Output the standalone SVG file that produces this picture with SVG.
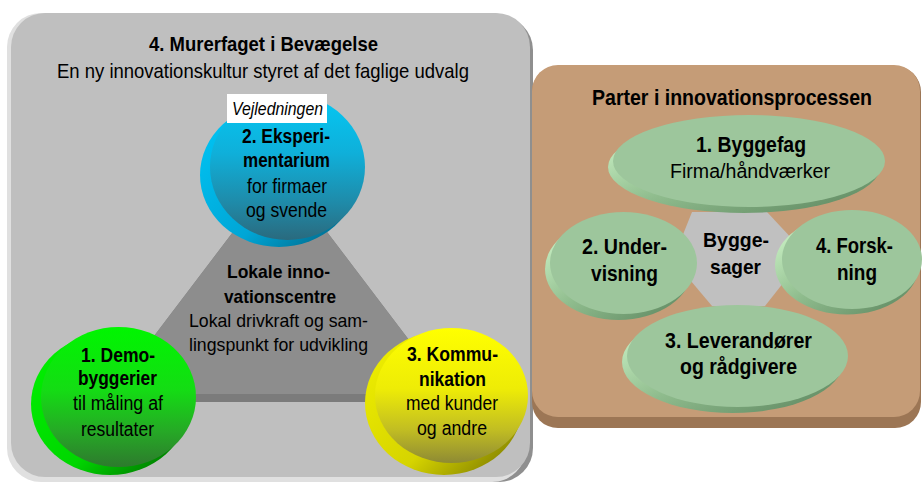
<svg xmlns="http://www.w3.org/2000/svg" width="923" height="484" viewBox="0 0 923 484">
<style>
text{font-family:"Liberation Sans Narrow","Arial Narrow","Liberation Sans",Arial,sans-serif;fill:#000;text-anchor:middle;}
.b{font-weight:bold;}
.i{font-style:italic;}
.s21{font-size:21px;}
.s20{font-size:20px;}
.s19{font-size:19px;}
.s18{font-size:18px;}
.s22{font-size:22px;}
.ell{fill:#9dc69c;}
.ellb{fill:url(#gEllB);}
</style>
<defs>
<linearGradient id="gBlueF" x1="0" y1="0" x2="0" y2="1">
<stop offset="0" stop-color="#03c8f4"/><stop offset="0.4" stop-color="#0fb0da"/><stop offset="0.75" stop-color="#1f8aa8"/><stop offset="1" stop-color="#2a6a7e"/>
</linearGradient>
<linearGradient id="gBlueB" x1="0" y1="0" x2="1" y2="1">
<stop offset="0" stop-color="#00c8f8"/><stop offset="0.6" stop-color="#00a6d6"/><stop offset="1" stop-color="#005a78"/>
</linearGradient>
<linearGradient id="gGreenF" x1="0" y1="0" x2="0" y2="1">
<stop offset="0" stop-color="#00f600"/><stop offset="0.45" stop-color="#14dc14"/><stop offset="0.75" stop-color="#26a826"/><stop offset="1" stop-color="#2d7a2d"/>
</linearGradient>
<linearGradient id="gGreenB" x1="0" y1="0" x2="1" y2="1">
<stop offset="0" stop-color="#00f400"/><stop offset="0.6" stop-color="#00d600"/><stop offset="1" stop-color="#005c00"/>
</linearGradient>
<linearGradient id="gYellowF" x1="0" y1="0" x2="0" y2="1">
<stop offset="0" stop-color="#ffff00"/><stop offset="0.45" stop-color="#eeec06"/><stop offset="0.75" stop-color="#c2be22"/><stop offset="1" stop-color="#8e8a34"/>
</linearGradient>
<linearGradient id="gYellowB" x1="0" y1="0" x2="1" y2="1">
<stop offset="0" stop-color="#f2f200"/><stop offset="0.6" stop-color="#d6d400"/><stop offset="1" stop-color="#6c6a00"/>
</linearGradient>
<linearGradient id="gEllB" x1="0" y1="0.3" x2="0.7" y2="1">
<stop offset="0" stop-color="#c2eabd"/><stop offset="0.5" stop-color="#8fbc8d"/><stop offset="1" stop-color="#6a946b"/>
</linearGradient>
</defs>

<g id="panel-left">
<rect x="14" y="16" width="519" height="466" rx="34" fill="#8f8f8f"/>
<rect x="7" y="13" width="519" height="469" rx="34" fill="#e0e0e0"/>
<rect x="11" y="13" width="519" height="464" rx="34" fill="#bfbfbf"/>
<text class="b s21" x="263.5" y="51" textLength="229" lengthAdjust="spacingAndGlyphs">4. Murerfaget i Bevægelse</text>
<text class="s21" x="263" y="78" textLength="412" lengthAdjust="spacingAndGlyphs">En ny innovationskultur styret af det faglige udvalg</text>
</g>

<g id="node-lokale">
<polygon points="280,170 104,402 456,402" fill="#7b7b7b"/>
<polygon points="280,170 110,394 450,394" fill="#8d8d8d"/>
<text class="b s19" x="278.5" y="278" textLength="103" lengthAdjust="spacingAndGlyphs">Lokale inno-</text>
<text class="b s19" x="280" y="303" textLength="112" lengthAdjust="spacingAndGlyphs">vationscentre</text>
<text class="s19" x="278.5" y="327" textLength="179" lengthAdjust="spacingAndGlyphs">Lokal drivkraft og sam-</text>
<text class="s19" x="278.5" y="351" textLength="179" lengthAdjust="spacingAndGlyphs">lingspunkt for udvikling</text>
</g>

<g id="node-eksperimentarium">
<ellipse cx="279" cy="175" rx="79" ry="72" fill="url(#gBlueB)"/>
<ellipse cx="287.5" cy="167" rx="77.5" ry="73" fill="url(#gBlueF)"/>
<text class="b s20" x="286" y="143" textLength="88" lengthAdjust="spacingAndGlyphs">2. Eksperi-</text>
<text class="b s20" x="286.5" y="167" textLength="87" lengthAdjust="spacingAndGlyphs">mentarium</text>
<text class="s20" x="287" y="193" textLength="80" lengthAdjust="spacingAndGlyphs">for firmaer</text>
<text class="s20" x="286.5" y="217" textLength="81" lengthAdjust="spacingAndGlyphs">og svende</text>
</g>

<g id="node-vejledningen">
<rect x="227" y="94" width="100" height="29" fill="#ffffff"/>
<text class="i s18" x="277.5" y="115" textLength="91" lengthAdjust="spacingAndGlyphs">Vejledningen</text>
</g>

<g id="node-demobyggerier">
<ellipse cx="110" cy="404" rx="79" ry="71" fill="url(#gGreenB)"/>
<ellipse cx="118.5" cy="397" rx="77.5" ry="70" fill="url(#gGreenF)"/>
<text class="b s20" x="118" y="362" textLength="74" lengthAdjust="spacingAndGlyphs">1. Demo-</text>
<text class="b s20" x="117.5" y="385" textLength="79" lengthAdjust="spacingAndGlyphs">byggerier</text>
<text class="s20" x="118" y="410" textLength="90" lengthAdjust="spacingAndGlyphs">til måling af</text>
<text class="s20" x="117.5" y="436" textLength="73" lengthAdjust="spacingAndGlyphs">resultater</text>
</g>

<g id="node-kommunikation">
<ellipse cx="444" cy="403" rx="79" ry="72" fill="url(#gYellowB)"/>
<ellipse cx="451.5" cy="395.5" rx="76.5" ry="67.5" fill="url(#gYellowF)"/>
<text class="b s20" x="452.5" y="361" textLength="91" lengthAdjust="spacingAndGlyphs">3. Kommu-</text>
<text class="b s20" x="452.5" y="386" textLength="67" lengthAdjust="spacingAndGlyphs">nikation</text>
<text class="s20" x="452" y="410" textLength="92" lengthAdjust="spacingAndGlyphs">med kunder</text>
<text class="s20" x="452" y="435" textLength="70" lengthAdjust="spacingAndGlyphs">og andre</text>
</g>

<g id="panel-right">
<rect x="532" y="66" width="389" height="362" rx="26" fill="#9c7655"/>
<rect x="532" y="65" width="388" height="352" rx="26" fill="#c59c77"/>
<text class="b s22" x="732" y="105" textLength="280" lengthAdjust="spacingAndGlyphs">Parter i innovationsprocessen</text>
</g>

<g id="node-byggesager">
<polygon points="692,212 767,212 795,242 795,268 765,306 712,306 680,268 680,242" fill="#c0c0c0"/>
<text class="b s21" x="736" y="247" textLength="66" lengthAdjust="spacingAndGlyphs">Bygge-</text>
<text class="b s21" x="735.5" y="274" textLength="51" lengthAdjust="spacingAndGlyphs">sager</text>
</g>

<g id="node-byggefag">
<ellipse class="ellb" cx="744" cy="167" rx="136" ry="46"/>
<ellipse class="ell" cx="749" cy="161" rx="136" ry="46"/>
<text class="b s22" x="751" y="152" textLength="110" lengthAdjust="spacingAndGlyphs">1. Byggefag</text>
<text class="s20" x="750" y="178" textLength="160" lengthAdjust="spacingAndGlyphs">Firma/håndværker</text>
</g>

<g id="node-undervisning">
<ellipse class="ellb" cx="618.5" cy="269" rx="73.5" ry="51"/>
<ellipse class="ell" cx="623.5" cy="263" rx="73.5" ry="51"/>
<text class="b s22" x="624.5" y="254" textLength="85" lengthAdjust="spacingAndGlyphs">2. Under-</text>
<text class="b s22" x="624.5" y="281" textLength="67" lengthAdjust="spacingAndGlyphs">visning</text>
</g>

<g id="node-forskning">
<ellipse class="ellb" cx="847" cy="265" rx="72" ry="49.5"/>
<ellipse class="ell" cx="852" cy="259.5" rx="70" ry="49.5"/>
<text class="b s22" x="854.5" y="253" textLength="77" lengthAdjust="spacingAndGlyphs">4. Forsk-</text>
<text class="b s22" x="857" y="280" textLength="40" lengthAdjust="spacingAndGlyphs">ning</text>
</g>

<g id="node-leverandoerer">
<ellipse class="ellb" cx="732.5" cy="362" rx="110.5" ry="51"/>
<ellipse class="ell" cx="737.5" cy="356" rx="110.5" ry="51"/>
<text class="b s22" x="738.5" y="348" textLength="147" lengthAdjust="spacingAndGlyphs">3. Leverandører</text>
<text class="b s22" x="738.5" y="374" textLength="117" lengthAdjust="spacingAndGlyphs">og rådgivere</text>
</g>

<g id="connectors"/>
</svg>
